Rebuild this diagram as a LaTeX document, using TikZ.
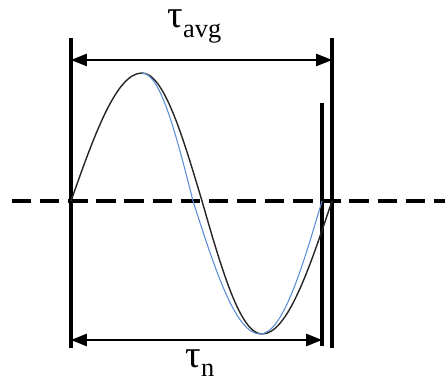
\documentclass[tikz,border=0pt]{standalone}
\usepackage{fontspec}
\setmainfont{Liberation Serif}
\usetikzlibrary{arrows.meta}

\definecolor{curveblue}{RGB}{91,141,213}
\newcommand{\lowtext}[1]{{\fontsize{15}{15}\selectfont\raisebox{-5.5pt}{#1}}}

\begin{document}
\begin{tikzpicture}[
	v/.style = {line width=1.9pt},
	d/.style = {line width=2.6pt, dash pattern=on 11pt off 5pt},
	r/.style = {{Triangle[length=9pt,width=7pt]}-{Triangle[length=9pt,width=7pt]}, line width=0.8pt},
	w/.style = {line width=0.8pt},
	l/.style = {inner sep=0pt, font=\fontsize{22}{24}\selectfont}
	]
	\useasboundingbox (0, 0) rectangle (8.9, 7.72);
	
	% ===== ===== ===== ===== =====
	
	% Coordinates
	\coordinate	(lt)	at	(1.42, 6.96);
	\coordinate	(lb)	at	(1.42, 0.76);
	\coordinate	(rt)	at	(6.64, 6.96);
	\coordinate	(rb)	at	(6.64, 0.76);
	\coordinate	(it)	at	(6.44, 5.66);
	\coordinate	(ib)	at	(6.44, 0.80);
	
	\coordinate	(al)	at	(1.42, 6.52);
	\coordinate	(ar)	at	(6.64, 6.52);
	\coordinate	(bl)	at	(1.42, 0.92);
	\coordinate	(br)	at	(6.44, 0.92);
	
	\coordinate	(z1)	at	(0.24, 3.70);
	\coordinate	(z2)	at	(8.90, 3.70);
	
	\coordinate	(s0)	at	(1.42, 3.70);
	\coordinate	(s1)	at	(2.84, 6.26);
	\coordinate	(s2)	at	(4.04, 3.70);
	\coordinate	(s3)	at	(5.24, 1.04);
	\coordinate	(s4)	at	(6.64, 3.70);
	
	\coordinate	(n2)	at	(3.86, 3.70);
	\coordinate	(n3)	at	(5.20, 1.04);
	\coordinate	(n4)	at	(6.44, 3.70);
	
	% Nodes
	\node[l]	(tavg)	at	(3.89, 7.19)	{τ\lowtext{avg}};
	\node[l]	(tn)	at	(4.00, 0.46)	{τ\lowtext{n}};
	
	
	
	% Lines
	\draw[d]	(z1)	--	(z2);
	\draw[v]	(lt)	--	(lb);
	\draw[v]	(rt)	--	(rb);
	\draw[v]	(it)	--	(ib);
	\draw[r]	(al)	--	(ar);
	\draw[r]	(bl)	--	(br);
	
	\draw[w, black!85]	(s0) sin (s1) cos (s2) sin (s3) cos (s4);
	\draw[line width=0.6pt, curveblue]	(s1) cos (n2) sin (n3) cos (n4);
	
\end{tikzpicture}
\end{document}
